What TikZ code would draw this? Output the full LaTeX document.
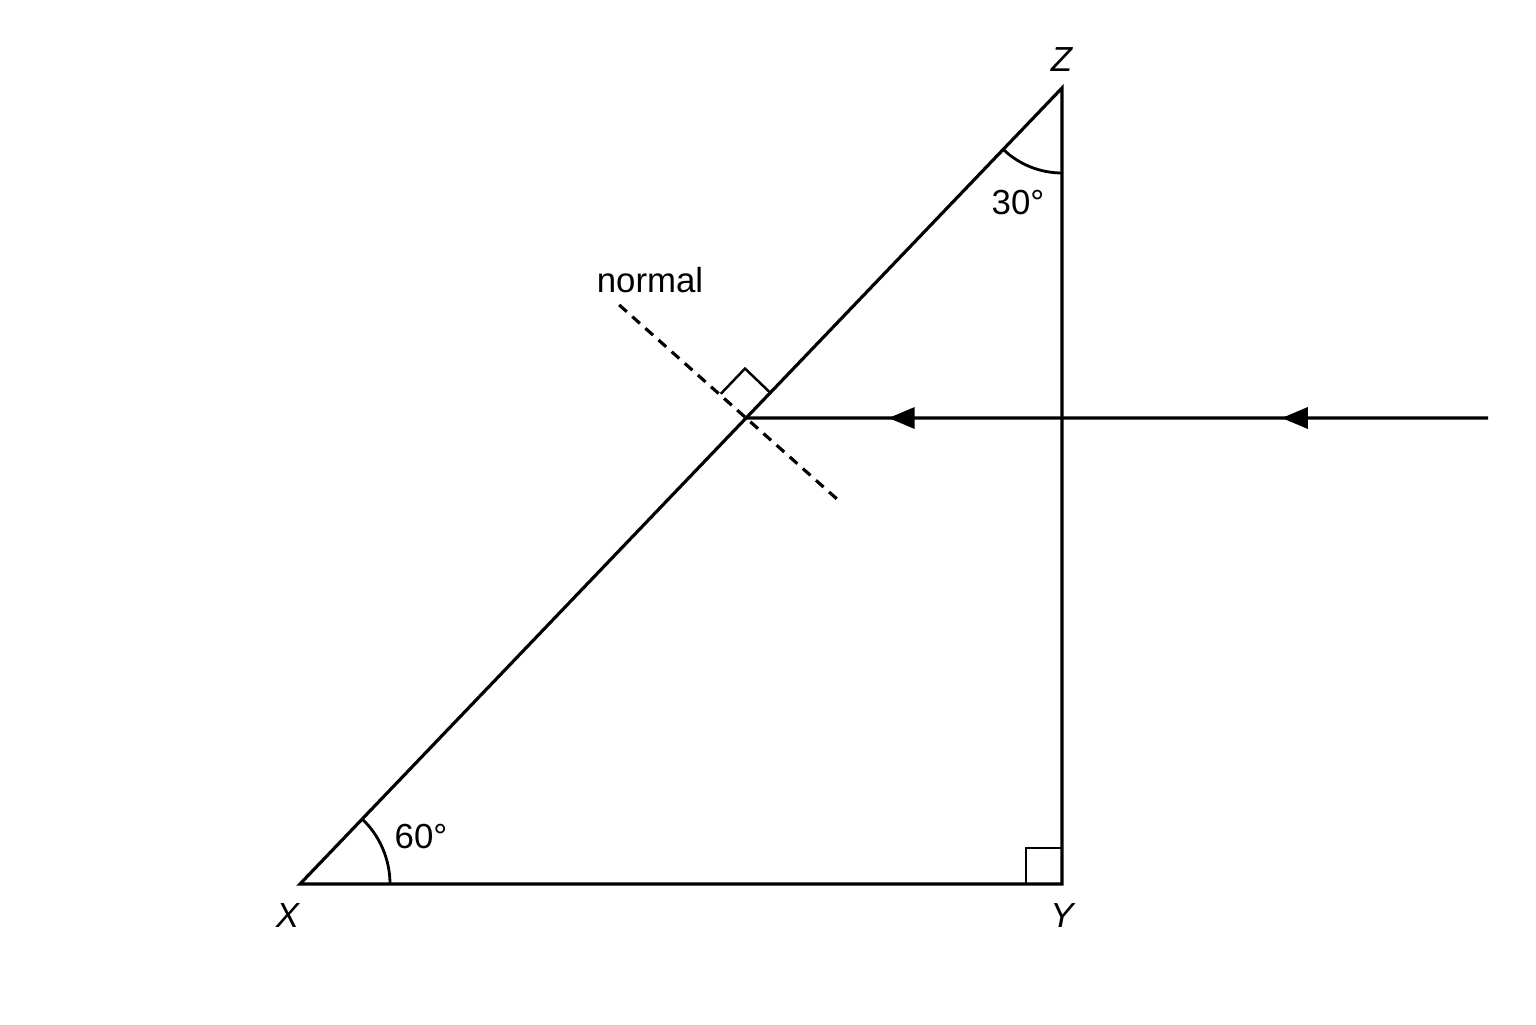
\documentclass[tikz,border=0pt]{standalone}
\usepackage{fontspec}
\setmainfont{Liberation Sans}
\usetikzlibrary{calc,angles,arrows.meta,decorations.markings}

\tikzset{
  edge/.style={line width=0.9pt},
  lbl/.style={font=\fontsize{9.9}{12}\selectfont,inner sep=0pt},
  raytip/.style={postaction={decorate},decoration={markings,
      mark=at position 0.278 with {\arrow{Triangle[length=2.6mm,width=2.1mm]}},
      mark=at position 0.808 with {\arrow{Triangle[length=2.6mm,width=2.1mm]}}}}
}

\begin{document}
\begin{tikzpicture}
  \useasboundingbox (0,0) rectangle (15.36,10.24);
  \coordinate (X) at (3.00,1.40);
  \coordinate (Y) at (10.62,1.40);
  \coordinate (Z) at (10.62,9.36);
  \coordinate (P) at ($(X)!0.5854!(Z)$);
  \coordinate (src) at (14.88,6.06);
  \draw[edge] (X) -- (Y) -- (Z) -- cycle;
  \pic[draw,line width=0.8pt,angle radius=0.9cm] {angle=Y--X--Z};
  \pic[draw,line width=0.8pt,angle radius=0.85cm] {angle=X--Z--Y};
  \draw[line width=0.8pt] ($(Y)+(-0.36,0)$) -- ++(0,0.36) -- ++(0.36,0);
  \draw[edge,raytip] (src) -- (P);
  \coordinate (nup) at ($(P)+(138.3:1.70)$);
  \coordinate (ndown) at ($(P)+(-41.7:1.26)$);
  \draw[line width=0.9pt,dash pattern=on 2.9pt off 2.1pt] (nup) -- (ndown);
  \coordinate (sqa) at ($(P)!0.35cm!(Z)$);
  \coordinate (sqb) at ($(P)!0.35cm!90:(Z)$);
  \draw[line width=0.7pt] (sqa) -- ($(sqa)+(sqb)-(P)$) -- (sqb);
  \node[lbl] (labx) at (2.88,1.08) {\textit{X}};
  \node[lbl] (laby) at (10.63,1.08) {\textit{Y}};
  \node[lbl] (labz) at (10.62,9.64) {\textit{Z}};
  \node[lbl] (angz) at (10.18,8.21) {30°};
  \node[lbl] (angx) at (4.21,1.87) {60°};
  \node[lbl] (norm) at (6.50,7.44) {normal};
\end{tikzpicture}
\end{document}
